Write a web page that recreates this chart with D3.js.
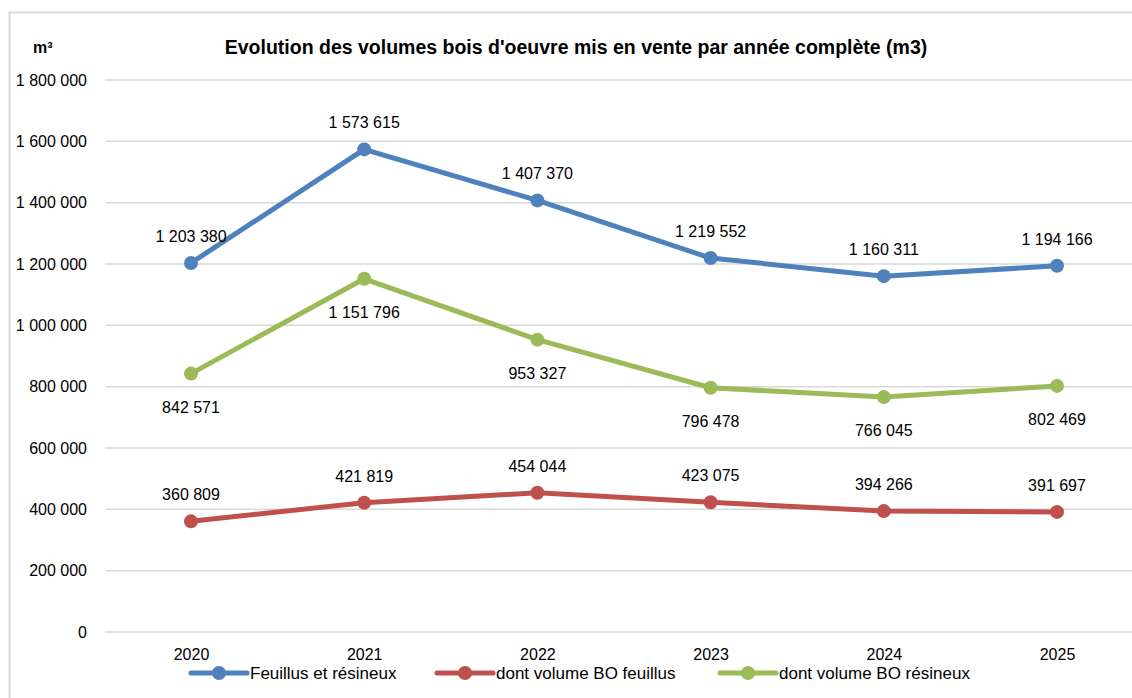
<!DOCTYPE html>
<html>
<head>
<meta charset="utf-8">
<script src="https://cdn.jsdelivr.net/npm/d3@7"></script>
<style>
  body { margin: 0; background: #fff; }
  svg { display: block; font-family: "Liberation Sans", Arial, sans-serif; }
</style>
</head>
<body>
<svg id="chart" width="1132" height="698"></svg>
<script>
const years = ["2020", "2021", "2022", "2023", "2024", "2025"];
const totalValues = [1203380, 1573615, 1407370, 1219552, 1160311, 1194166];
const feuillusValues = [360809, 421819, 454044, 423075, 394266, 391697];
const resineuxValues = [842571, 1151796, 953327, 796478, 766045, 802469];
const yTicks = [0, 200000, 400000, 600000, 800000, 1000000, 1200000, 1400000, 1600000, 1800000];
const seriesNames = ["Feuillus et résineux", "dont volume BO feuillus", "dont volume BO résineux"];

const series = [
    { name: seriesNames[0], values: totalValues, color: "#4f81bd", labelPos: "above" },
    { name: seriesNames[1], values: feuillusValues, color: "#c0504d", labelPos: "above" },
    { name: seriesNames[2], values: resineuxValues, color: "#9bbb59", labelPos: "below" }
];

const svg = d3.select("#chart");
const fmt = v => d3.format(",")(v).replace(/,/g, " ");

// chart frame
svg.append("path")
    .attr("d", "M9.5,698 V12.5 H1132")
    .attr("fill", "none")
    .attr("stroke", "#d9d9d9")
    .attr("stroke-width", 2);

const x = d3.scalePoint().domain(years).range([191, 1057]);
const y = d3.scaleLinear().domain([0, 1800000]).range([632, 80]);

// gridlines
svg.append("g")
    .selectAll("line")
    .data(yTicks)
    .join("line")
    .attr("x1", 105)
    .attr("x2", 1132)
    .attr("y1", d => y(d))
    .attr("y2", d => y(d))
    .attr("stroke", "#d9d9d9")
    .attr("stroke-width", 1.5);

// y axis labels
const yAxis = d3.axisLeft(y).tickValues(yTicks).tickSize(0).tickPadding(0).tickFormat(fmt);
svg.append("g")
    .attr("transform", "translate(87,0)")
    .call(yAxis)
    .call(g => g.select(".domain").remove())
    .selectAll("text")
    .attr("font-size", 16)
    .attr("font-family", "Liberation Sans, Arial, sans-serif")
    .attr("fill", "#000");

// x axis labels
const xAxis = d3.axisBottom(x).tickSize(0).tickPadding(0);
svg.append("g")
    .attr("transform", "translate(0,649)")
    .call(xAxis)
    .call(g => g.select(".domain").remove())
    .selectAll("text")
    .attr("font-size", 16)
    .attr("font-family", "Liberation Sans, Arial, sans-serif")
    .attr("fill", "#000");

// unit
svg.append("text")
    .attr("x", 33)
    .attr("y", 53)
    .attr("font-size", 16)
    .attr("font-weight", "bold")
    .text("m³");

// title
svg.append("text")
    .attr("x", 576)
    .attr("y", 54)
    .attr("text-anchor", "middle")
    .attr("font-size", 19.5)
    .attr("font-weight", "bold")
    .text("Evolution des volumes bois d'oeuvre mis en vente par année complète (m3)");

const line = d3.line()
    .x((d, i) => x(years[i]))
    .y(d => y(d));

series.forEach(s => {
    const g = svg.append("g");
    g.append("path")
        .attr("d", line(s.values))
        .attr("fill", "none")
        .attr("stroke", s.color)
        .attr("stroke-width", 5)
        .attr("stroke-linejoin", "round");
    g.selectAll("circle")
        .data(s.values)
        .join("circle")
        .attr("cx", (d, i) => x(years[i]))
        .attr("cy", d => y(d))
        .attr("r", 7)
        .attr("fill", s.color);
    g.selectAll("text")
        .data(s.values)
        .join("text")
        .attr("x", (d, i) => x(years[i]))
        .attr("y", d => y(d) + (s.labelPos === "above" ? -21 : 39))
        .attr("text-anchor", "middle")
        .attr("font-size", 16)
        .attr("fill", "#000")
        .text(fmt);
});

// legend
const legendX = [191, 437, 720];
const legend = svg.append("g")
    .selectAll("g")
    .data(series)
    .join("g")
    .attr("transform", (d, i) => `translate(${legendX[i]},673)`);
legend.append("line")
    .attr("x1", 0).attr("x2", 56)
    .attr("stroke", d => d.color)
    .attr("stroke-width", 5)
    .attr("stroke-linecap", "round");
legend.append("circle")
    .attr("cx", 28)
    .attr("r", 7)
    .attr("fill", d => d.color);
legend.append("text")
    .attr("x", 59)
    .attr("y", 6)
    .attr("font-size", 17)
    .attr("fill", "#000")
    .text(d => d.name);
</script>
</body>
</html>
